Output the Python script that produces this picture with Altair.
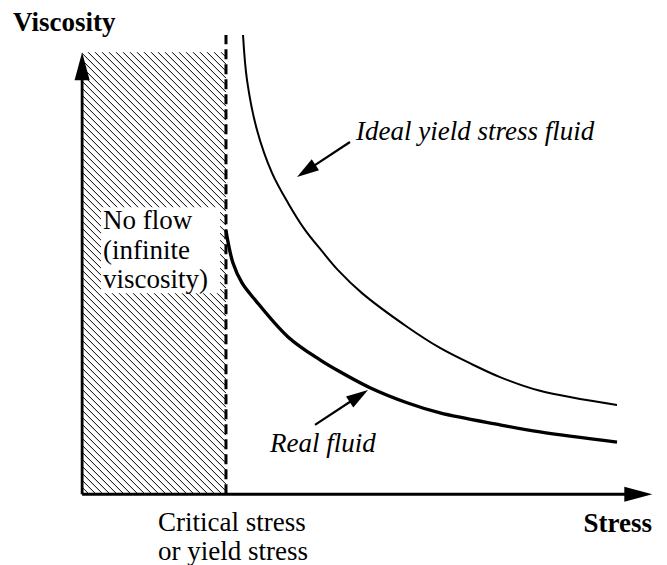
import altair as alt
import numpy as np
import pandas as pd

# ---- values (schematic units: stress, viscosity) ----
ideal_stress = [28.22, 28.92, 30.67, 33.30, 36.11, 39.09, 42.07, 44.88, 49.09, 56.98, 62.77, 68.55, 73.29, 80.30, 93.81]
ideal_visc = [103.9, 93.7, 82.4, 72.7, 65.9, 59.8, 55.0, 50.7, 45.5, 37.9, 33.1, 29.3, 26.5, 23.4, 20.2]
real_stress = [25.23, 26.46, 28.04, 30.32, 36.11, 41.72, 45.23, 50.49, 56.98, 62.77, 73.29, 80.30, 93.81]
real_visc = [59.6, 52.3, 47.8, 44.0, 35.6, 30.4, 27.7, 24.1, 20.7, 18.4, 15.7, 14.1, 11.8]

yield_stress = 25.23
yield_line_top = 103.9
noflow_top = 100.0
axis_end = 100.0

# annotation arrows: tail -> tip
arrow_names = ["ideal", "real"]
arrow_tail_x = [46.98, 40.84]
arrow_tail_y = [79.69, 15.68]
arrow_tip_x = [37.69, 50.14]
arrow_tip_y = [71.78, 23.59]

# text labels
label_text = ["Viscosity", "Stress", "Critical stress", "or yield stress",
              "No flow", "(infinite", "viscosity)",
              "Ideal yield stress fluid", "Real fluid"]
label_x = [-12.12, 99.95, 13.31, 13.31, 3.66, 3.66, 3.66, 48.03, 32.95]
label_y = [104.8, -8.57, -8.35, -14.9, 60.0, 53.2, 46.6, 80.1, 9.57]
label_style = ["bold", "boldr", "normal", "normal", "normal", "normal", "normal", "italic", "italic"]

# white box behind the "No flow" text
box_x = [3.3, 24.2]
box_y = [45.5, 64.9]

# ---- layout ----
W, H = 650, 557
XD = [-13, 101]
YD = [-16, 110]
PXX = W / (XD[1] - XD[0])
PXY = H / (YD[1] - YD[0])
xs = alt.Scale(domain=XD, nice=False, zero=False)
ys = alt.Scale(domain=YD, nice=False, zero=False)
FONT = "Liberation Serif, DejaVu Serif, serif"
FS = 27

def X(f, **k):
    return alt.X(f, type="quantitative", scale=xs, axis=None, **k)

def Y(f, **k):
    return alt.Y(f, type="quantitative", scale=ys, axis=None, **k)

# hatch lines (45 degrees on screen) clipped to the no-flow region
r = PXX / PXY
spacing_px = 7.0
db = r * spacing_px / PXX
segs = []
b = 0.0
while True:
    b += db
    x_start = max(0.0, (b - noflow_top) / r)
    x_end = min(yield_stress, b / r)
    if x_start >= yield_stress:
        break
    if x_start < x_end:
        segs.append({"x": x_start, "y": b - r * x_start, "x2": x_end, "y2": b - r * x_end})
hatch_df = pd.DataFrame(segs)

hatch = alt.Chart(hatch_df).mark_rule(color="black", strokeWidth=1).encode(
    x=X("x"), y=Y("y"), x2="x2", y2="y2")

box = alt.Chart(pd.DataFrame({"x": [box_x[0]], "x2": [box_x[1]], "y": [box_y[0]], "y2": [box_y[1]]})).mark_rect(
    color="white").encode(x=X("x"), x2="x2", y=Y("y"), y2="y2")

# axes with arrow heads
ax_len = 28.0
axes_df = pd.DataFrame({
    "x": [0.0, 0.0], "y": [0.0, 0.0],
    "x2": [axis_end - ax_len / 2 / PXX, 0.0],
    "y2": [0.0, axis_end - ax_len / 2 / PXY],
})
axes = alt.Chart(axes_df).mark_rule(color="black", strokeWidth=2.8).encode(
    x=X("x"), y=Y("y"), x2="x2", y2="y2")

axis_heads_df = pd.DataFrame({
    "x": [axis_end - ax_len / 2 / PXX, 0.0],
    "y": [0.0, axis_end - ax_len / 2 / PXY],
    "ang": [90.0, 0.0],
})
axis_heads = alt.Chart(axis_heads_df).mark_point(
    shape="M0,-1L0.54,1L-0.54,1Z", filled=True, fill="black", stroke=None, opacity=1, size=ax_len ** 2
).encode(x=X("x"), y=Y("y"), angle=alt.Angle("ang:Q", scale=None))

# yield stress dashed line
dash = alt.Chart(pd.DataFrame({"x": [yield_stress], "y": [0.0], "y2": [yield_line_top]})).mark_rule(
    color="black", strokeWidth=3, strokeDash=[10, 5]).encode(x=X("x"), y=Y("y"), y2="y2")

# curves
ideal_df = pd.DataFrame({"stress": ideal_stress, "visc": ideal_visc})
real_df = pd.DataFrame({"stress": real_stress, "visc": real_visc})
ideal_line = alt.Chart(ideal_df).mark_line(
    color="black", strokeWidth=2, interpolate="catmull-rom").encode(x=X("stress"), y=Y("visc"))
real_line = alt.Chart(real_df).mark_line(
    color="black", strokeWidth=3.4, interpolate="catmull-rom").encode(x=X("stress"), y=Y("visc"))

# annotation arrows
L = 22.0
rows_line, rows_head = [], []
for i in range(len(arrow_names)):
    dxp = (arrow_tip_x[i] - arrow_tail_x[i]) * PXX
    dyp = -(arrow_tip_y[i] - arrow_tail_y[i]) * PXY
    n = np.hypot(dxp, dyp)
    ux, uy = dxp / n, dyp / n
    ang = (np.degrees(np.arctan2(ux, -uy)) + 360) % 360
    cx = arrow_tip_x[i] - (L / 2) * ux / PXX
    cy = arrow_tip_y[i] + (L / 2) * uy / PXY
    rows_line.append({"x": arrow_tail_x[i], "y": arrow_tail_y[i], "x2": cx, "y2": cy})
    rows_head.append({"x": cx, "y": cy, "ang": ang})
arrow_lines = alt.Chart(pd.DataFrame(rows_line)).mark_rule(color="black", strokeWidth=2.2).encode(
    x=X("x"), y=Y("y"), x2="x2", y2="y2")
arrow_heads = alt.Chart(pd.DataFrame(rows_head)).mark_point(
    shape="M0,-1L0.6,1L-0.6,1Z", filled=True, fill="black", stroke=None, opacity=1, size=L ** 2
).encode(x=X("x"), y=Y("y"), angle=alt.Angle("ang:Q", scale=None))

# labels
lab = pd.DataFrame({"t": label_text, "x": label_x, "y": label_y, "st": label_style})

def text_layer(style, **kw):
    return alt.Chart(lab[lab.st == style]).mark_text(
        font=FONT, fontSize=FS, color="black", baseline="alphabetic", **kw
    ).encode(x=X("x"), y=Y("y"), text="t:N")

t_bold = text_layer("bold", align="left", fontWeight="bold")
t_boldr = text_layer("boldr", align="right", fontWeight="bold")
t_norm = text_layer("normal", align="left")
t_ital = text_layer("italic", align="left", fontStyle="italic")

chart = alt.layer(
    hatch, box, dash, axes, axis_heads, ideal_line, real_line,
    arrow_lines, arrow_heads, t_bold, t_boldr, t_norm, t_ital
).properties(
    width=W, height=H, padding=0, autosize=alt.AutoSizeParams(type="none"), background="white"
).configure_view(stroke=None)

chart.save("out.html", embed_options={"renderer": "svg", "actions": False})
